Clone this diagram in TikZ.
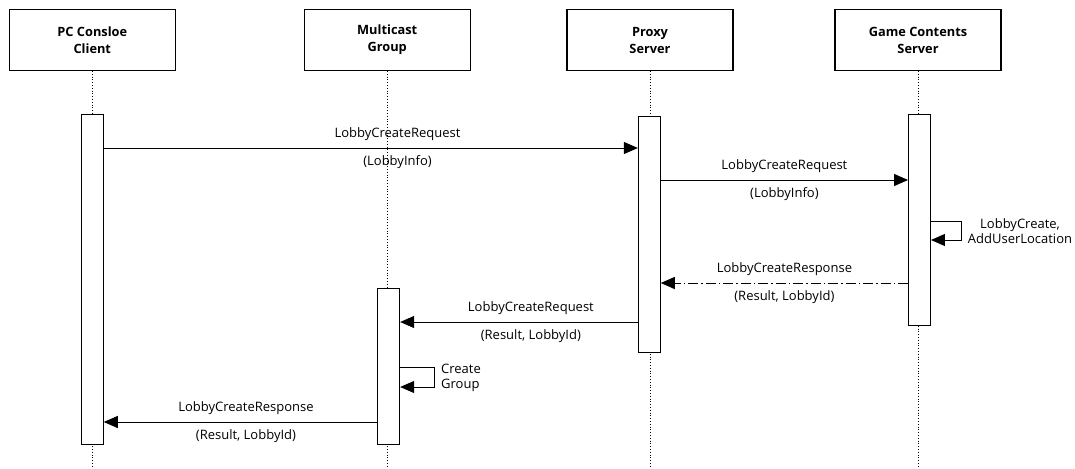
\documentclass[tikz,border=0pt]{standalone}
\usepackage{fontspec}
\setmainfont{Open Sans}
\usetikzlibrary{positioning, arrows.meta, calc}
\tikzstyle{participant}=[draw, line width=1.1pt, minimum width=166pt, minimum height=61pt, align=center, font=\fontsize{12.8}{17}\selectfont\bfseries]
\tikzstyle{activation}=[draw, fill=white, line width=0.9pt, minimum width=22pt, inner sep=0pt]
\tikzstyle{lifeline}=[dotted, line width=0.8pt]
\tikzstyle{msg}=[-{Triangle[length=14pt,width=12pt]}, line width=1pt]
\tikzstyle{reply}=[msg, dash pattern=on 10pt off 3pt on 1.5pt off 3pt]
\tikzstyle{lbl}=[font=\fontsize{13}{14.5}\selectfont, inner sep=0pt]

\begin{document}
\begin{tikzpicture}[x=1pt, y=-1pt]
      \useasboundingbox (0,0) rectangle (1075,468);

      \node[participant] (pc) at (92.3,40) {PC Consloe\\Client};
      \node[participant] (group) at (387.2,40) {Multicast\\Group};
      \node[participant] (proxy) at (650,40) {Proxy\\Server};
      \node[participant] (game) at (918,40) {Game Contents\\Server};

      \foreach \n in {pc, group, proxy, game}{
        \draw[lifeline] (\n.south) -- (\n.south |- 0,468);
      }

      \node[activation, minimum height=330pt] (actPc) at (92.3,279) {};
      \node[activation, minimum height=156pt] (actGroup) at (388.7,366) {};
      \node[activation, minimum height=236pt] (actProxy) at (649.3,234.5) {};
      \node[activation, minimum height=211pt] (actGame) at (919.5,220.3) {};

      \coordinate (m1) at (0,148);
      \coordinate (m2) at (0,180);
      \coordinate (s1) at (0,221);
      \coordinate (s1e) at (0,240);
      \coordinate (m3) at (0,283);
      \coordinate (m4) at (0,322);
      \coordinate (s2) at (0,367);
      \coordinate (s2e) at (0,387);
      \coordinate (m5) at (0,422);

      \draw[msg] (actPc.east |- m1) -- (actProxy.west |- m1)
        node[lbl, pos=0.55, yshift=14pt] {LobbyCreateRequest}
        node[lbl, pos=0.55, yshift=-14pt] {(LobbyInfo)};
      \draw[msg] (actProxy.east |- m2) -- (actGame.west |- m2)
        node[lbl, midway, yshift=14pt] {LobbyCreateRequest}
        node[lbl, midway, yshift=-14pt] {(LobbyInfo)};
      \draw[msg] (actGame.east |- s1) -- ++(31,0) |- (actGame.east |- s1e);
      \node[lbl, align=center] at (1020,231) {LobbyCreate,\\AddUserLocation};
      \draw[reply] (actGame.west |- m3) -- (actProxy.east |- m3)
        node[lbl, midway, yshift=14pt] {LobbyCreateResponse}
        node[lbl, midway, yshift=-14pt] {(Result, LobbyId)};
      \draw[msg] (actProxy.west |- m4) -- (actGroup.east |- m4)
        node[lbl, pos=0.45, yshift=14pt] {LobbyCreateRequest}
        node[lbl, pos=0.45, yshift=-14pt] {(Result, LobbyId)};
      \draw[msg] (actGroup.east |- s2) -- ++(34,0) |- (actGroup.east |- s2e);
      \node[lbl, align=left, anchor=west] at (441,378) {Create\\Group};
      \draw[msg] (actGroup.west |- m5) -- (actPc.east |- m5)
        node[lbl, pos=0.48, yshift=14pt] {LobbyCreateResponse}
        node[lbl, pos=0.48, yshift=-14pt] {(Result, LobbyId)};
    \end{tikzpicture}
\end{document}
